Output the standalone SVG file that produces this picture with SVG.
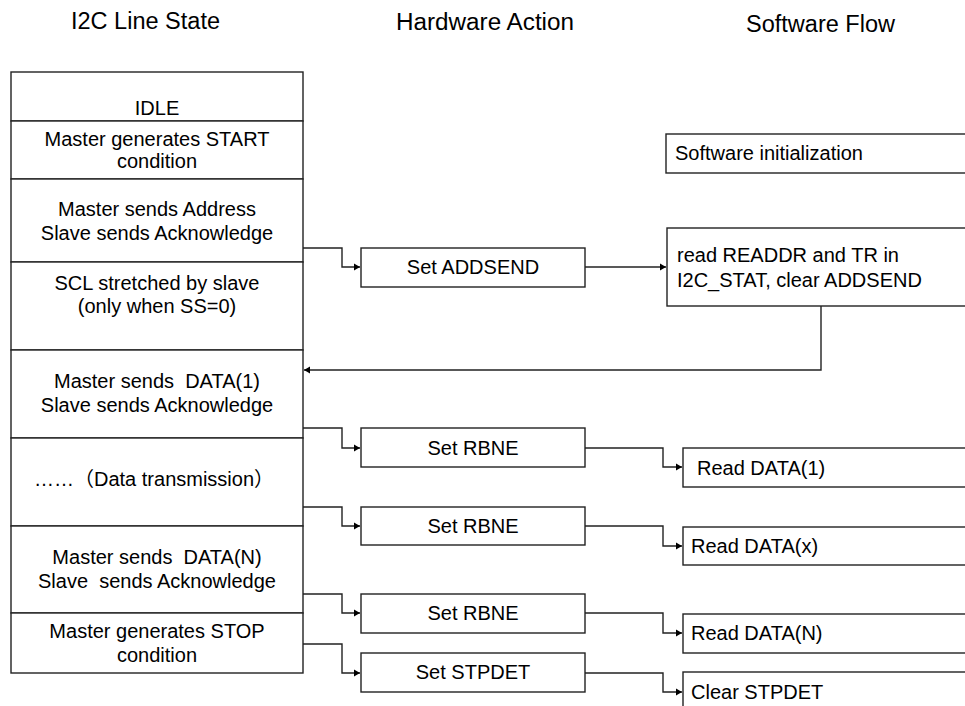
<svg xmlns="http://www.w3.org/2000/svg" width="965" height="706" viewBox="0 0 965 706">
<style>
  .box { fill: #ffffff; stroke: #222222; stroke-width: 1.4; }
  .t { font-family: "Liberation Sans", Arial, "Noto Sans CJK SC", sans-serif; font-size: 20px; fill: #000000; }
  .c { text-anchor: middle; }
  .h { font-family: "Liberation Sans", Arial, sans-serif; font-size: 23px; fill: #000000; text-anchor: middle; }
  .ln { fill: none; stroke: #222222; stroke-width: 1.4; }
</style>
<defs>
  <marker id="arr" markerUnits="userSpaceOnUse" markerWidth="7" markerHeight="8" refX="6" refY="4" orient="auto">
    <path d="M0,0.5 L6,4 L0,7.5 z" fill="#000000"/>
  </marker>
</defs>
<rect width="965" height="706" fill="#ffffff"/>

<g id="headers">
  <text class="h" x="145.5" y="29" textLength="149" lengthAdjust="spacingAndGlyphs">I2C Line State</text>
  <text class="h" x="485" y="30" textLength="178" lengthAdjust="spacingAndGlyphs">Hardware Action</text>
  <text class="h" x="820.5" y="32" textLength="149" lengthAdjust="spacingAndGlyphs">Software Flow</text>
</g>

<g id="line-state">
  <g id="ls-idle">
    <rect class="box" x="11" y="72" width="292" height="49"/>
    <text class="t c" x="157" y="115">IDLE</text>
  </g>
  <g id="ls-start">
    <rect class="box" x="11" y="121" width="292" height="58"/>
    <text class="t c" x="157" y="146">Master generates START</text>
    <text class="t c" x="157" y="168">condition</text>
  </g>
  <g id="ls-address">
    <rect class="box" x="11" y="179" width="292" height="83"/>
    <text class="t c" x="157" y="216">Master sends Address</text>
    <text class="t c" x="157" y="240">Slave sends Acknowledge</text>
  </g>
  <g id="ls-scl">
    <rect class="box" x="11" y="262" width="292" height="88"/>
    <text class="t c" x="157" y="290">SCL stretched by slave</text>
    <text class="t c" x="157" y="313">(only when SS=0)</text>
  </g>
  <g id="ls-data1">
    <rect class="box" x="11" y="350" width="292" height="88"/>
    <text class="t c" x="157" y="388" xml:space="preserve">Master sends  DATA(1)</text>
    <text class="t c" x="157" y="412">Slave sends Acknowledge</text>
  </g>
  <g id="ls-trans">
    <rect class="box" x="11" y="438" width="292" height="88"/>
    <text class="t" x="34" y="486">……（Data transmission）</text>
  </g>
  <g id="ls-datan">
    <rect class="box" x="11" y="526" width="292" height="87"/>
    <text class="t c" x="157" y="564" xml:space="preserve">Master sends  DATA(N)</text>
    <text class="t c" x="157" y="588" xml:space="preserve">Slave  sends Acknowledge</text>
  </g>
  <g id="ls-stop">
    <rect class="box" x="11" y="613" width="292" height="60"/>
    <text class="t c" x="157" y="638">Master generates STOP</text>
    <text class="t c" x="157" y="662">condition</text>
  </g>
</g>

<g id="hw-addsend">
  <rect class="box" x="361" y="248" width="224" height="39"/>
  <text class="t c" x="473" y="274">Set ADDSEND</text>
</g>
<g id="hw-rbne1">
  <rect class="box" x="361" y="428" width="224" height="39"/>
  <text class="t c" x="473" y="455">Set RBNE</text>
</g>
<g id="hw-rbne2">
  <rect class="box" x="361" y="507" width="224" height="38"/>
  <text class="t c" x="473" y="533">Set RBNE</text>
</g>
<g id="hw-rbne3">
  <rect class="box" x="361" y="594" width="224" height="39"/>
  <text class="t c" x="473" y="620">Set RBNE</text>
</g>
<g id="hw-stpdet">
  <rect class="box" x="361" y="653" width="224" height="39"/>
  <text class="t c" x="473" y="679">Set STPDET</text>
</g>

<g id="sw-init">
  <rect class="box" x="666" y="134" width="320" height="39"/>
  <text class="t" x="675" y="160">Software initialization</text>
</g>
<g id="sw-readaddr">
  <rect class="box" x="667" y="228" width="320" height="78"/>
  <text class="t" x="677" y="262">read READDR and TR in</text>
  <text class="t" x="677" y="287">I2C_STAT, clear ADDSEND</text>
</g>
<g id="sw-data1">
  <rect class="box" x="683" y="448" width="300" height="39"/>
  <text class="t" x="697" y="475">Read DATA(1)</text>
</g>
<g id="sw-datax">
  <rect class="box" x="683" y="527" width="300" height="38"/>
  <text class="t" x="691" y="553">Read DATA(x)</text>
</g>
<g id="sw-datan">
  <rect class="box" x="683" y="614" width="300" height="39"/>
  <text class="t" x="691" y="640">Read DATA(N)</text>
</g>
<g id="sw-clear">
  <rect class="box" x="683" y="672" width="300" height="60"/>
  <text class="t" x="691" y="699">Clear STPDET</text>
</g>

<g id="connectors">
  <polyline class="ln" points="303,248 342,248 342,267 360,267" marker-end="url(#arr)"/>
  <polyline class="ln" points="303,428 342,428 342,448 360,448" marker-end="url(#arr)"/>
  <polyline class="ln" points="303,507 342,507 342,526 360,526" marker-end="url(#arr)"/>
  <polyline class="ln" points="303,594 342,594 342,613 360,613" marker-end="url(#arr)"/>
  <polyline class="ln" points="303,644 342,644 342,673 360,673" marker-end="url(#arr)"/>

  <polyline class="ln" points="585,267 666,267" marker-end="url(#arr)"/>
  <polyline class="ln" points="821,306 821,370 304,370" marker-end="url(#arr)"/>

  <polyline class="ln" points="585,448 663,448 663,467 682,467" marker-end="url(#arr)"/>
  <polyline class="ln" points="585,526 663,526 663,546 682,546" marker-end="url(#arr)"/>
  <polyline class="ln" points="585,613 663,613 663,633 682,633" marker-end="url(#arr)"/>
  <polyline class="ln" points="585,673 663,673 663,692 682,692" marker-end="url(#arr)"/>
</g>
</svg>
